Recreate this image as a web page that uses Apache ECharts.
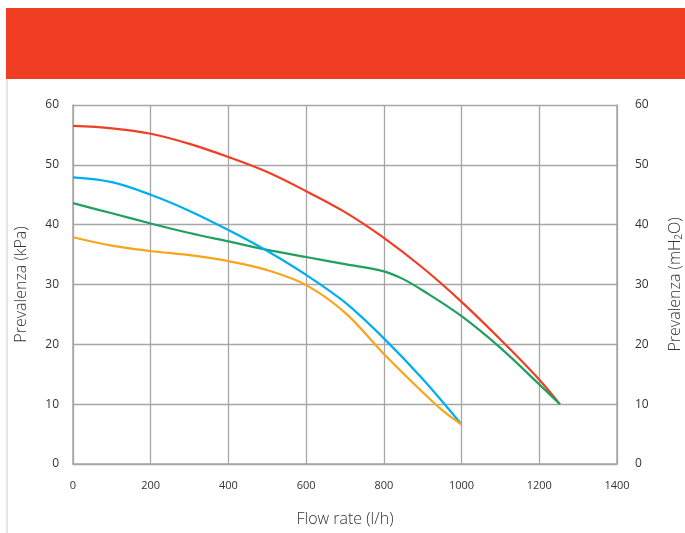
<!DOCTYPE html>
<html><head><meta charset="utf-8">
<script src="https://cdn.jsdelivr.net/npm/echarts@6/dist/echarts.min.js"></script>
<style>html,body{margin:0;padding:0;background:#fff}#c{width:685px;height:533px}</style>
</head><body><div id="c"></div>
<script>
var flow = [0, 100, 200, 300, 400, 500, 600, 700, 800, 900, 1000, 1100, 1200, 1253];
var redHead = [56.5, 56.1, 55.2, 53.5, 51.3, 48.8, 45.6, 42.1, 37.8, 32.8, 27.1, 20.8, 14.1, 10];
var greenFlow = [0, 100, 200, 300, 400, 500, 600, 700, 800, 850, 900, 1000, 1100, 1200, 1253];
var greenHead = [43.6, 41.9, 40.2, 38.6, 37.2, 35.8, 34.6, 33.4, 32.2, 30.9, 29.0, 24.7, 19.4, 13.3, 10];
var blueFlow = [0, 100, 200, 300, 400, 500, 600, 700, 800, 900, 1000];
var blueHead = [47.9, 47.1, 45.0, 42.3, 39.1, 35.6, 31.6, 27.0, 21.0, 14.2, 6.6];
var orangeFlow = [0, 100, 200, 300, 400, 500, 600, 700, 800, 900, 950, 1000];
var orangeHead = [37.9, 36.5, 35.6, 34.9, 33.9, 32.4, 29.9, 25.3, 18.4, 12.0, 9.0, 6.6];
var xTicks = [0, 200, 400, 600, 800, 1000, 1200, 1400];
var yTicks = [0, 10, 20, 30, 40, 50, 60];

function pairs(xs, ys){ return xs.map(function(x,i){ return [x, ys[i]]; }); }
function line(name, xs, ys, color){
  return {name:name, type:'line', data:pairs(xs, ys), smooth:0.35, symbol:'none',
    lineStyle:{color:color, width:2.2}, itemStyle:{color:color}, z:3};
}
var chart = echarts.init(document.getElementById('c'), null, {renderer:'canvas'});
var gridColor = '#a6a6a6';
chart.setOption({
  animation:false,
  backgroundColor:'#fff',
  textStyle:{fontFamily:'Open Sans, Noto Sans, sans-serif'},
  graphic:[
    {type:'rect', shape:{x:6, y:8, width:679, height:71}, style:{fill:'#f03e22'}, z:-1},
    {type:'line', shape:{x1:7, y1:79, x2:7, y2:533}, style:{stroke:'#cccccc', lineWidth:1}}
  ],
  grid:{left:73, right:68, top:105, bottom:69, outerBoundsMode:'none', containLabel:false},
  xAxis:{type:'value', min:0, max:1400, interval:200,
    axisLine:{show:true, lineStyle:{color:gridColor, width:1.5}},
    axisTick:{show:false},
    axisLabel:{color:'#333', fontSize:11, margin:16,
      formatter:function(v){ return xTicks.indexOf(v) >= 0 ? String(v) : ''; }},
    splitLine:{show:true, lineStyle:{color:gridColor, width:1.3}},
    name:'Flow rate (l/h)', nameLocation:'middle', nameGap:47,
    nameTextStyle:{color:'#333', fontSize:16, fontWeight:300}
  },
  yAxis:[
    {type:'value', min:0, max:60, interval:10, position:'left',
      axisLine:{show:true, lineStyle:{color:gridColor, width:1.5}},
      axisTick:{show:false},
      axisLabel:{color:'#333', fontSize:12, margin:14,
        formatter:function(v){ return yTicks.indexOf(v) >= 0 ? String(v) : ''; }},
      splitLine:{show:true, lineStyle:{color:gridColor, width:1.3}},
      name:'Prevalenza (kPa)', nameLocation:'middle', nameGap:44, nameRotate:90,
      nameTextStyle:{color:'#333', fontSize:16, fontWeight:300}
    },
    {type:'value', min:0, max:60, interval:10, position:'right',
      axisLine:{show:true, lineStyle:{color:gridColor, width:1.5}},
      axisTick:{show:false},
      axisLabel:{color:'#333', fontSize:12, margin:18,
        formatter:function(v){ return yTicks.indexOf(v) >= 0 ? String(v) : ''; }},
      splitLine:{show:false},
      name:'Prevalenza (mH₂O)', nameLocation:'middle', nameGap:50, nameRotate:90,
      nameTextStyle:{color:'#333', fontSize:16, fontWeight:300}
    }
  ],
  series:[
    line('Red', flow, redHead, '#ef3e23'),
    line('Green', greenFlow, greenHead, '#20a060'),
    line('Blue', blueFlow, blueHead, '#00aeef'),
    line('Orange', orangeFlow, orangeHead, '#f8a51c')
  ]
});
</script></body></html>
